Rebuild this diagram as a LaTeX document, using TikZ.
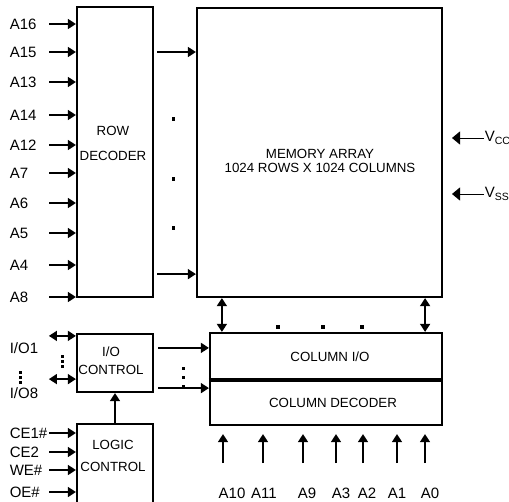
\documentclass[tikz,border=0pt]{standalone}
\usepackage{fontspec}
\setmainfont{Liberation Sans}
\usetikzlibrary{arrows.meta,positioning}

\newcommand{\boxfont}{\fontsize{13.3}{14}\selectfont}
\newcommand{\pinfont}{\fontsize{15}{16}\selectfont}

\begin{document}
\begin{tikzpicture}[x=1pt,y=-1pt,>={Triangle[length=8pt,width=10pt]},
                    line width=1.5pt]
  \tikzstyle{block}=[draw,line width=2.2pt,inner sep=0pt]
  \tikzstyle{btext}=[font=\boxfont,align=center,inner sep=0pt]
  \tikzstyle{pinlbl}=[font=\pinfont,anchor=west,inner sep=0pt]
  \tikzstyle{sig}=[->]
  \tikzstyle{bus}=[<->]
  \tikzstyle{pwr}=[-{Triangle[length=8pt,width=13pt]},line width=0.8pt]
  \useasboundingbox (0,0) rectangle (509,501);

  % blocks
  \node[block,minimum width=76pt,minimum height=290pt]  (rowdec) at (115,152)   {};
  \node[block,minimum width=245pt,minimum height=289pt] (mem)    at (319.5,152.5) {};
  \node[block,minimum width=76pt,minimum height=58pt]   (iocon)  at (115,363)   {};
  \node[block,minimum width=76pt,minimum height=96pt]   (logic)  at (115,472)   {};
  \node[block,minimum width=232pt,minimum height=46pt]  (colio)  at (326,356)   {};
  \node[block,minimum width=232pt,minimum height=46pt]  (coldec) at (326,402)   {};
  \draw[line width=3.8pt] (colio.south west) -- (colio.south east);

  \node[btext] (rowtxt)    at (113,143) {ROW\\[11pt]DECODER};
  \node[btext] (memtxt)    at (320,161) {MEMORY ARRAY\\1024 ROWS X 1024 COLUMNS};
  \node[btext] (iotxt)     at (111,361) {I/O\\[4pt]CONTROL};
  \node[btext] (logtxt)    at (113,456) {LOGIC\\[8pt]CONTROL};
  \node[btext] (coliotxt)  at (330,357) {COLUMN I/O};
  \node[btext] (coldectxt) at (333,403) {COLUMN DECODER};

  % row address
  \foreach \name/\y [count=\i] in {A16/24,A15/52,A13/82,A14/115,A12/145,
                                   A7/173,A6/203,A5/233,A4/265,A8/297} {
    \node[pinlbl] (row\i) at (9,\y) {\name};
    \draw[sig] ([xshift=40pt]row\i.west) -- (rowdec.west |- row\i.west);
  }

  \draw[sig] ([xshift=3pt]rowdec.east |- row2.west) -- (mem.west |- row2.west);
  \coordinate (rlow) at ([yshift=24pt]rowdec.south east);
  \draw[sig] ([xshift=3pt]rlow) -- (mem.west |- rlow);
  \foreach \y in {117,177,226}
    \fill (171.5,\y) rectangle ++(3.5,3.5);

  % power
  \node[pinlbl] (vcc) at (484,138) {V\textsubscript{CC}};
  \node[pinlbl] (vss) at (484,194) {V\textsubscript{SS}};
  \draw[pwr] (vcc.west) -- ++(-32,0);
  \draw[pwr] (vss.west) -- ++(-32,0);

  % data lines
  \node[pinlbl] (io1) at (9,348) {I/O1};
  \node[pinlbl] (io8) at (9,393) {I/O8};
  \coordinate (d1) at ([yshift=-3pt]iocon.north west);
  \coordinate (d8) at ([yshift=14pt]iocon.south west);
  \draw[bus] ([xshift=-27pt]d1) -- (d1);
  \draw[bus] ([xshift=-27pt]d8) -- (d8);
  \foreach \y in {355,360,365}
    \fill (61,\y) rectangle ++(2.8,2.8);
  \foreach \y in {371,376,381}
    \fill (19,\y) rectangle ++(2.8,2.8);

  \coordinate (o1) at ([xshift=4pt,yshift=-15pt]iocon.north east);
  \coordinate (o8) at ([xshift=4pt,yshift=5pt]iocon.south east);
  \draw[sig] (o1) -- (colio.west |- o1);
  \draw[sig] (o8) -- (coldec.west |- o8);
  \foreach \y in {367,376,385}
    \fill (182,\y) rectangle ++(2.8,2.8);

  \draw[sig] (logic) -- (iocon);

  % array to column I/O
  \coordinate (b1) at ([xshift=13pt]colio.north west);
  \coordinate (b2) at ([xshift=-18pt]colio.north east);
  \draw[bus] (b1) -- (b1 |- mem.south);
  \draw[bus] (b2) -- (b2 |- mem.south);
  \foreach \x in {276,321,360}
    \fill (\x,325) rectangle ++(3.5,3.5);

  % column address
  \foreach \x/\name/\lx in {223/A10/232,263/A11/264,303/A9/307,336/A3/341,
                            363/A2/367,397/A1/397,425/A0/430} {
    \node[pinlbl,anchor=center] (col\name) at (\lx,493) {\name};
    \coordinate (tail\name) at (\x,463);
    \draw[sig,shorten >=8pt] (tail\name) -- (tail\name |- coldec.south);
  }

  % control
  \foreach \name/\y [count=\i] in {CE1\#/433,CE2/452,WE\#/470,OE\#/492} {
    \node[pinlbl] (ctl\i) at (9,\y) {\name};
    \draw[sig] ([xshift=40pt]ctl\i.west) -- (logic.west |- ctl\i.west);
  }
\end{tikzpicture}
\end{document}
